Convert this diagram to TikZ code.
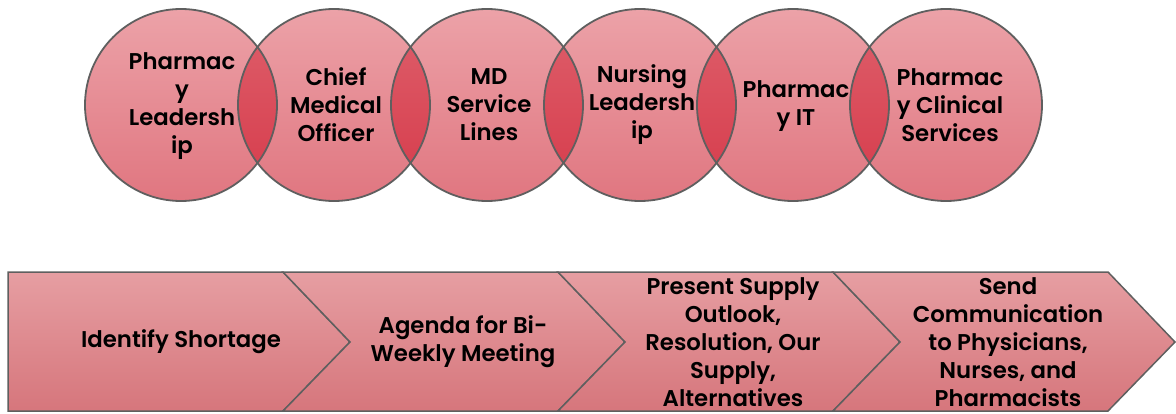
\documentclass[tikz,border=0pt]{standalone}
\usepackage{fontspec}
\setmainfont{Poppins}[BoldFont={Poppins SemiBold}]
\definecolor{pinktop}{RGB}{236,162,168}
\definecolor{pinkbot}{RGB}{224,118,128}
\definecolor{lenstop}{RGB}{222,96,108}
\definecolor{lensbot}{RGB}{214,58,74}
\definecolor{chevtop}{RGB}{230,158,162}
\definecolor{chevbot}{RGB}{214,118,124}
\definecolor{rim}{RGB}{95,95,95}
\tikzset{
  circfill/.style={top color=pinktop,bottom color=pinkbot,draw=none},
  rimline/.style={draw=rim,line width=1.8pt},
  chevshape/.style={top color=chevtop,bottom color=chevbot,draw=rim,line width=1.5pt,line join=miter},
  lbl/.style={align=center,font=\fontsize{22.8}{28}\selectfont\bfseries,text=black}
}
\begin{document}
\begin{tikzpicture}[x=1pt,y=-1pt]
\useasboundingbox (0,0) rectangle (1176,413);
%circles
\foreach \i/\x in {1/181,2/334,3/487,4/640,5/793,6/946}
  \shade[circfill] (\x,105) circle (96);
\foreach \i/\x/\y in {1/181/334,2/334/487,3/487/640,4/640/793,5/793/946}{
  \begin{scope}
    \clip (\x,105) circle (96);
    \shade[top color=lenstop,bottom color=lensbot] (\y,105) circle (96);
  \end{scope}
}
\foreach \x in {181,334,487,640,793,946}
  \draw[rimline] (\x,105) circle (96);
\node[lbl] (pharmlead) at (182,106) {Pharmac\\y\\Leadersh\\ip};
\node[lbl] (cmo) at (336,105) {Chief\\Medical\\Officer};
\node[lbl] (md) at (489,105) {MD\\Service\\Lines};
\node[lbl] (nurse) at (642,105) {Nursing\\Leadersh\\ip};
\node[lbl] (pharmit) at (796,106) {Pharmac\\y IT};
\node[lbl] (pharmclin) at (950,105) {Pharmac\\y Clinical\\Services};
%process chevrons
\draw[chevshape] (8,272)--(283,272)--(350,342)--(283,411)--(8,411)--cycle;
\foreach \x in {283,558,833}
  \draw[chevshape] (\x,272)--++(275,0)--++(67,70)--++(-67,69)--++(-275,0)--++(67,-69)--cycle;
\node[lbl] (identify) at (181,342) {Identify Shortage};
\node[lbl] (agenda) at (463,342) {Agenda for Bi-\\Weekly Meeting};
\node[lbl] (present) at (733,342) {Present Supply\\Outlook,\\Resolution, Our\\Supply,\\Alternatives};
\node[lbl] (send) at (1008,342) {Send\\Communication\\to Physicians,\\Nurses, and\\Pharmacists};
\end{tikzpicture}
\end{document}
